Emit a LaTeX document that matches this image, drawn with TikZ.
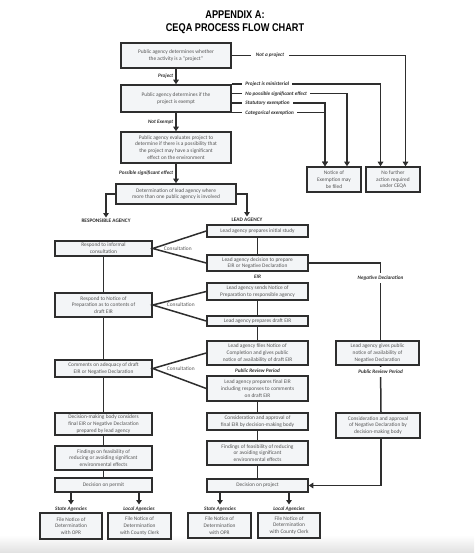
\documentclass[tikz,border=0pt]{standalone}
\usepackage{fontspec}
\setmainfont{Carlito}
\newfontfamily\titlefont[FakeStretch=0.82]{Liberation Sans}
\usetikzlibrary{arrows.meta,calc,positioning}

\definecolor{linegray}{HTML}{2E2E2E}
\definecolor{boxfill}{HTML}{F3F5F7}
\definecolor{boxtext}{HTML}{555555}
\newcommand{\boxfont}{\fontsize{5.4}{6.8}\selectfont}
\newcommand{\lblfont}{\fontsize{5.2}{6}\selectfont\bfseries\itshape}

\begin{document}
\begin{tikzpicture}[x=1pt, y=-1pt,
    stage/.style={draw=linegray, line width=1.5pt, fill=boxfill, text=boxtext, font=\boxfont, align=center, inner sep=1pt},
    flow/.style={draw=linegray, line width=1.5pt},
    arr/.style={flow, -{Triangle[length=4.5pt,width=5.5pt]}},
    lbl/.style={font=\lblfont, text=linegray, inner sep=2pt},
    gap/.style={lbl, fill=white, inner sep=3pt},
    colhead/.style={font=\fontsize{5.3}{6}\selectfont\bfseries, text=linegray, inner sep=1.5pt},
    consult/.style={font=\boxfont, text=boxtext, inner sep=0pt}]
    \useasboundingbox (0,0) rectangle (474,553);
    \shade[top color=white, bottom color=black!12] (0,535) rectangle (474,553);

    % title
    \node[font=\titlefont\fontsize{11.2}{13}\selectfont\bfseries, text=black, align=center] (title) at (235,22.5) {APPENDIX A:\\CEQA PROCESS FLOW CHART};

    % screening
    \node[stage, minimum width=110pt, minimum height=25pt] (who) at (176,55.5) {Public agency determines whether\\the activity is a ``project''};
    \node[stage, minimum width=110pt, minimum height=27pt] (exempt) at (176,98.5) {Public agency determines if the\\project is exempt};
    \node[stage, minimum width=110pt, minimum height=31pt] (signif) at (176,147.5) {Public agency evaluates project to\\determine if there is a possibility that\\the project may have a significant\\effect on the environment};
    \node[stage, minimum width=120pt, minimum height=20pt] (leadsel) at (176,194) {Determination of lead agency where\\more than one public agency is involved};
    \node[stage, minimum width=54pt, minimum height=25pt] (noe) at (334,179.5) {Notice of\\Exemption may\\be filed};
    \node[stage, minimum width=54pt, minimum height=25pt] (nofurther) at (393,179.5) {No further\\action required\\under CEQA};

    \draw[arr] (who) -- node[lbl, left] {Project} (exempt);
    \draw[arr] (exempt) -- node[lbl, left] {Not Exempt} (signif);
    \draw[arr] (signif) -- node[lbl, left] {Possible significant effect} (leadsel);

    \draw[arr] (who.east) -| node[gap, inner xsep=5pt, pos=0.11] {Not a project} ([xshift=12.5pt]nofurther.north);
    \draw[arr] (exempt.north east) -| node[gap, anchor=west, pos=0.033] {Project is ministerial} ([xshift=-12.5pt]nofurther.north);
    \draw[arr] ($(exempt.north east)!1/3!(exempt.south east)$) -| node[gap, anchor=west, pos=0.043] {No possible significant effect} ([xshift=13pt]noe.north);
    \draw[arr] ($(exempt.north east)!2/3!(exempt.south east)$) -| node[gap, anchor=west, pos=0.053] {Statutory exemption} ([xshift=-9pt]noe.north);
    \draw[arr] (exempt.south east) -| node[gap, anchor=west, pos=0.053] {Categorical exemption} ([xshift=-9pt]noe.north);

    % agencies
    \node[colhead] (resp) at (106,221) {RESPONSIBLE AGENCY};
    \node[colhead] (lead) at (247,220) {LEAD AGENCY};
    \draw[arr] (leadsel.west) -| (resp.north);
    \draw[arr] (leadsel.east) -| (lead.north);

    % responsible agency
    \node[stage, minimum width=97pt, minimum height=15pt] (r1) at (103.5,248.5) {Respond to informal\\consultation};
    \node[stage, minimum width=97pt, minimum height=24pt] (r2) at (103.5,305) {Respond to Notice of\\Preparation as to contents of\\draft EIR};
    \node[stage, minimum width=97pt, minimum height=17pt] (r3) at (103.5,368.5) {Comments on adequacy of draft\\EIR or Negative Declaration};
    \node[stage, minimum width=97pt, minimum height=22pt] (r4) at (103.5,424) {Decision-making body considers\\final EIR or Negative Declaration\\prepared by lead agency};
    \node[stage, minimum width=97pt, minimum height=24pt] (r5) at (103.5,458) {Findings on feasibility of\\reducing or avoiding significant\\environmental effects};
    \node[stage, minimum width=97pt, minimum height=14pt] (r6) at (103.5,485) {Decision on permit};
    \node[lbl] (r7h) at (71,509) {State Agencies};
    \node[lbl] (r8h) at (139,509) {Local Agencies};
    \node[stage, minimum width=62pt, minimum height=26pt] (r7) at (71,526) {File Notice of\\Determination\\with OPR};
    \node[stage, minimum width=63pt, minimum height=26pt] (r8) at (139.5,526) {File Notice of\\Determination\\with County Clerk};

    \draw[flow] (r1) -- (r2) -- (r3) -- (r4) -- (r5) -- (r6);
    \draw[arr] (r6.south -| r7h) -- (r7h);
    \draw[arr] (r6.south -| r8h) -- (r8h);

    % lead agency
    \node[stage, minimum width=101pt, minimum height=12pt] (l1) at (257.5,231) {Lead agency prepares initial study};
    \node[stage, minimum width=101pt, minimum height=16pt] (l2) at (257.5,263) {Lead agency decision to prepare\\EIR or Negative Declaration};
    \node[stage, minimum width=101pt, minimum height=17pt] (l3) at (257.5,291.5) {Lead agency sends Notice of\\Preparation to responsible agency};
    \node[stage, minimum width=101pt, minimum height=10pt] (l4) at (257.5,321) {Lead agency prepares draft EIR};
    \node[stage, minimum width=101pt, minimum height=24pt] (l5) at (257.5,353) {Lead agency files Notice of\\Completion and gives public\\notice of availability of draft EIR};
    \node[stage, minimum width=101pt, minimum height=25pt] (l6) at (257.5,388.5) {Lead agency prepares final EIR\\including responses to comments\\on draft EIR};
    \node[stage, minimum width=101pt, minimum height=17pt] (l7) at (257.5,421.5) {Consideration and approval of\\final EIR by decision-making body};
    \node[stage, minimum width=101pt, minimum height=24pt] (l8) at (257.5,453) {Findings of feasibility of reducing\\or avoiding significant\\environmental effects};
    \node[stage, minimum width=101pt, minimum height=13pt] (l9) at (257.5,485.5) {Decision on project};
    \node[lbl] (l10h) at (220,509) {State Agencies};
    \node[lbl] (l11h) at (289,509) {Local Agencies};
    \node[stage, minimum width=63pt, minimum height=25pt] (l10) at (219.5,525.5) {File Notice of\\Determination\\with OPR};
    \node[stage, minimum width=62pt, minimum height=25pt] (l11) at (289,525.5) {File Notice of\\Determination\\with County Clerk};

    \draw[flow] (l1) -- (l2);
    \draw[flow] (l2) -- node[gap] {EIR} (l3);
    \draw[flow] (l3) -- (l4) -- (l5);
    \draw[flow] (l5) -- node[gap] {Public Review Period} (l6);
    \draw[flow] (l6) -- (l7) -- (l8) -- (l9);
    \draw[arr] (l9.south -| l10h) -- (l10h);
    \draw[arr] (l9.south -| l11h) -- (l11h);

    % negative declaration
    \node[stage, minimum width=83pt, minimum height=24pt] (n1) at (377.5,353) {Lead agency gives public\\notice of availability of\\Negative Declaration};
    \node[stage, minimum width=84pt, minimum height=25pt] (n2) at (378,425.5) {Consideration and approval\\of Negative Declaration by\\decision-making body};

    \draw[flow] (l2.east) -| node[gap, pos=0.596] {Negative Declaration} ([xshift=3pt]n1.north);
    \draw[flow] ([xshift=3pt]n1.south) -- node[gap, pos=0.13] {Public Review Period} ([xshift=3pt]n2.north);
    \draw[arr] ([xshift=3pt]n2.south) |- (l9.east);

    % consultation
    \draw[flow] (l1.west) -- (r1.east) -- (l2.west);
    \draw[flow] (l3.west) -- (r2.east) -- (l4.west);
    \draw[flow] (l5.west) -- (r3.east) -- (l6.west);
    \node[consult, right=11pt] (c1) at (r1.east) {Consultation};
    \node[consult, right=14pt] (c2) at (r2.east) {Consultation};
    \node[consult, right=14pt] (c3) at (r3.east) {Consultation};
\end{tikzpicture}
\end{document}
